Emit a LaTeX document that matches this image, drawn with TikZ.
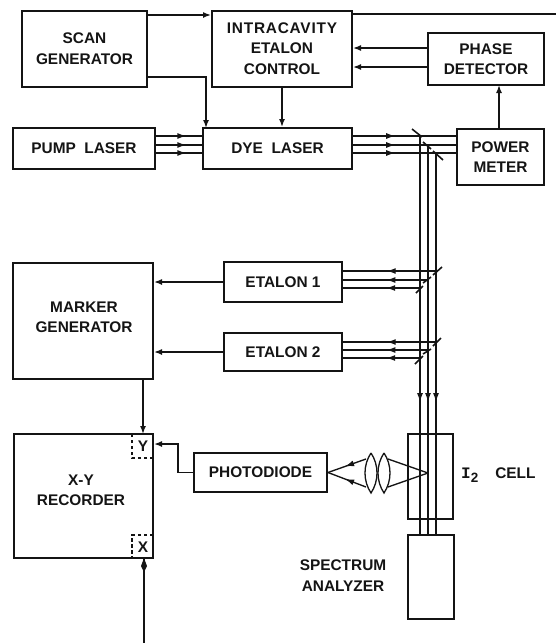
\documentclass[tikz,border=0pt]{standalone}
\usepackage{fontspec}
\setmainfont{Liberation Sans}
\newfontfamily\monof{Liberation Mono}
\usetikzlibrary{arrows.meta,decorations.markings,calc}
\definecolor{ink}{HTML}{141414}
\tikzset{
  x=1pt,y=-1pt,
  box/.style={draw=ink,line width=2pt,inner sep=0pt,align=center,text=ink,font=\fontsize{15.4}{20.5}\selectfont\bfseries},
  txt/.style={inner sep=0pt,align=center,text=ink,font=\fontsize{15.4}{20.5}\selectfont\bfseries},
  wire/.style={draw=ink,line width=1.5pt},
  beam/.style={draw=ink,line width=1.35pt},
  mirror/.style={draw=ink,line width=1.6pt},
  arr/.style={wire,-{Latex[length=8pt,width=6pt]}},
  dbox/.style={draw=ink,line width=1.4pt,dash pattern=on 3.5pt off 2.5pt},
  midarr/.style={postaction={decorate},decoration={markings,mark=at position #1 with {\arrow{Latex[length=9pt,width=6pt]}}}},
}
\newcommand{\bx}[7][]{\node[box,minimum width=#4pt,minimum height=#5pt,#1] (#2) at (#6,#7) {#3};}
\begin{document}
\begin{tikzpicture}
\useasboundingbox (0,0) rectangle (556,643);
% boxes: centre = ((l+r)/2,(t+b)/2)
\bx{scan}{SCAN\\GENERATOR}{125}{76}{84.5}{48.5}
\bx{icav}{{\addfontfeatures{LetterSpace=5}INTRACAVITY}\\ETALON\\CONTROL}{140}{76}{282}{48.5}
\bx{phase}{PHASE\\DETECTOR}{116}{52}{486}{59}
\bx{pump}{PUMP\ \ LASER}{142}{41}{84}{148.5}
\bx{dye}{DYE\ \ LASER}{149}{41}{277.5}{148.5}
\bx{power}{POWER\\METER}{87}{56}{500.5}{157}
\bx{et1}{ETALON 1}{118}{40}{283}{282}
\bx{et2}{ETALON 2}{118}{38}{283}{352}
\bx{marker}{}{140}{116}{83}{321}
\bx{rec}{}{139}{124}{83.5}{496}
\bx{photo}{PHOTODIODE}{133}{39}{260.5}{472.5}
\bx{cell}{}{45}{85}{430.5}{476.5}
\bx{spec}{}{46}{84}{431}{577}
\node[txt] (markertxt) at (84,317.5) {MARKER\\GENERATOR};
\node[txt] (rectxt) at (81,490.5) {X-Y\\RECORDER};
\node[txt] (spectxt) at (343,575.5) {SPECTRUM\\ANALYZER};
\node[txt,anchor=west] (celltxt) at (461,475.5) {{\monof\bfseries\fontsize{16}{20}\selectfont I}\raisebox{-4pt}{\fontsize{13.5}{14}\selectfont 2}\hspace{17pt}CELL};
\node[draw=none,txt,inner sep=0pt] (ylab) at (143,446) {Y};
\node[draw=none,txt,inner sep=0pt] (xlab) at (143,547) {X};
\draw[dbox] (153,458) -- (132,458) -- (132,434);
\draw[dbox] (153,535) -- (132,535) -- (132,558);
% control wires
\draw[arr] (scan.east|-0,15) -- (icav.west|-0,15);
\draw[arr] (scan.east|-0,77) -- (206,77) -- (206,128);
\draw[wire] (icav.east|-0,14) -- (556,14);
\draw[arr] (phase.west|-0,48) -- (icav.east|-0,48);
\draw[arr] (phase.west|-0,67) -- (icav.east|-0,67);
\draw[arr] (icav.south) -- (dye.north-|icav.south);
\draw[arr] (499,128) -- (499,85);
\draw[arr] (et1.west) -- (et1.west-|marker.east);
\draw[arr] (et2.west) -- (et2.west-|marker.east);
\draw[arr] (143,379) -- (143,434);
\coordinate (ybend) at (178,444);
\draw[arr] (photo.west) -- (ybend|-photo.west) -- (ybend) -- (rec.east|-ybend);
\coordinate (xin) at (144,643);
\draw[wire] (xin) -- (xin|-rec.south);
\fill[ink] (144,558) -- (147,566) -- (144,572) -- (141,566) -- cycle;
% beams
\foreach \y in {136,145,153}{
  \draw[beam,midarr=0.66] (pump.east|-0,\y) -- (dye.west|-0,\y);
  \draw[beam,midarr=0.41] (dye.east|-0,\y) -- (power.west|-0,\y);
}
\foreach \xx/\y/\p in {436/271/0.53,428/280/0.49,420/288/0.44,436/342/0.53,428/350/0.49,420/358/0.44}{
  \draw[beam,midarr=\p] (\xx,\y) -- (et1.east|-0,\y);
}
\draw[beam,midarr=0.667] (420,136) -- (420,535);
\draw[beam,midarr=0.659] (428,145) -- (428,535);
\draw[beam,midarr=0.652] (436,153) -- (436,535);
% mirrors
\draw[mirror] (412,129) -- (422,137);
\draw[mirror] (423,142) -- (431,149);
\draw[mirror] (433,151) -- (443,160);
\draw[mirror] (433,275) -- (442,267);
\draw[mirror] (423,283) -- (431,277);
\draw[mirror] (416,293) -- (423,286);
\draw[mirror] (433,346) -- (441,338);
\draw[mirror] (423,354) -- (431,349);
\draw[mirror] (415,364) -- (423,356);
% lenses
\draw[wire,line width=1.3pt] (371,453) .. controls (363,465) and (363,481) .. (371,493) .. controls (379,481) and (379,465) .. (371,453);
\draw[wire,line width=1.3pt] (384,453) .. controls (376,465) and (376,481) .. (384,493) .. controls (392,481) and (392,465) .. (384,453);
% rays
\coordinate (focus) at (428,473);
\draw[beam] (focus) -- (388,459);
\draw[beam] (focus) -- (388,487);
\draw[beam,midarr=0.55] (366,459) -- (photo.east);
\draw[beam,midarr=0.55] (366,487) -- (photo.east);
\end{tikzpicture}
\end{document}
